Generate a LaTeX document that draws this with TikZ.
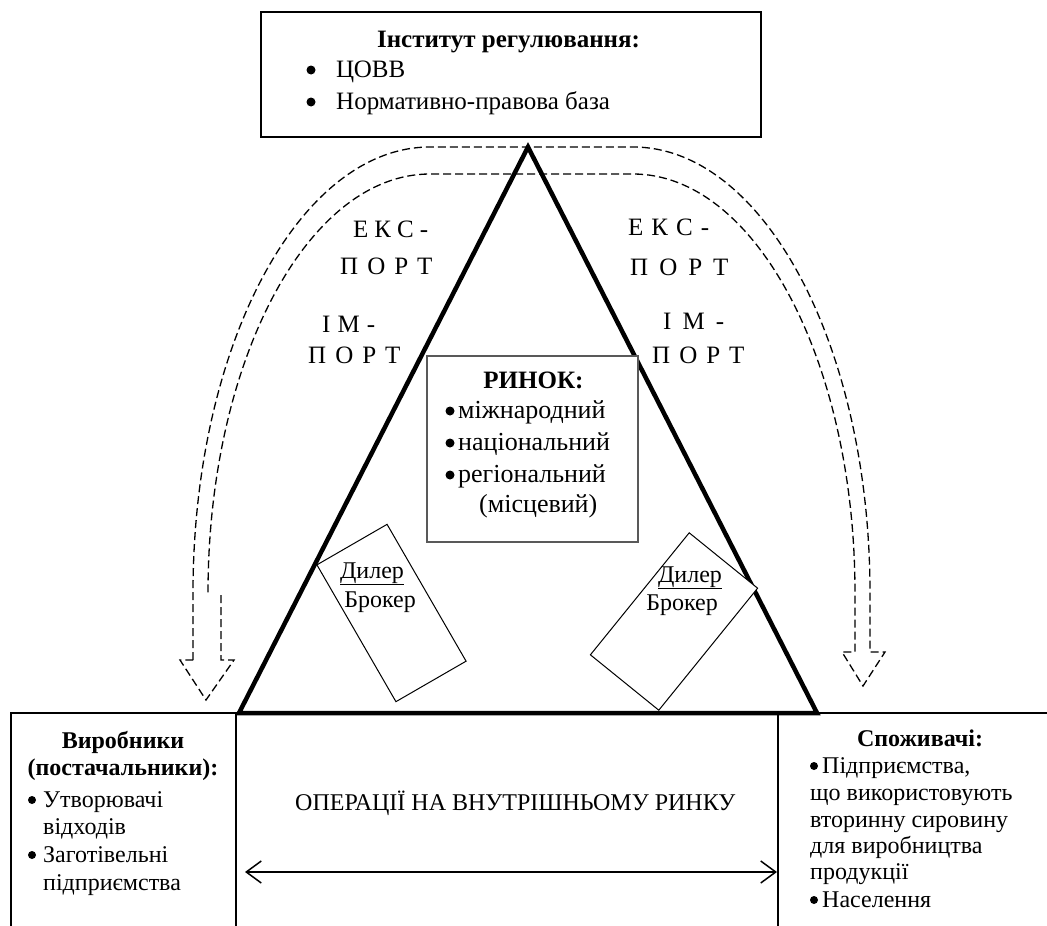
\documentclass[tikz,border=0pt]{standalone}
\usepackage{fontspec}
\setmainfont{Liberation Serif}
\usetikzlibrary{arrows.meta}
\begin{document}
\begin{tikzpicture}[x=1pt,y=-1pt,
  txt/.style={font=\fontsize{24}{28}\selectfont, inner sep=0pt, anchor=base},
  txtl/.style={txt, anchor=base west},
  btxt/.style={txt, font=\fontsize{24}{28}\selectfont\bfseries},
  big/.style={font=\fontsize{25}{30}\selectfont},
  bigb/.style={font=\fontsize{25}{30}\selectfont\bfseries},
  mid/.style={font=\fontsize{26}{30}\selectfont},
  bulfill/.style={fill=black},
  thinline/.style={line width=1.3pt},
  box/.style={draw, thinline, fill=white, inner sep=0pt},
  dsh/.style={line width=1.3pt, dash pattern=on 8pt off 4pt},
  tri/.style={line width=4.5pt, line join=miter},
]
\useasboundingbox (0,0) rectangle (1047,926);

% ---------- dashed U-shaped arrows ----------
\draw[dsh] (193,660) -- (193,593)
  arc[start angle=180, end angle=270, x radius=237, y radius=446]
  -- (633,147)
  arc[start angle=270, end angle=360, x radius=237, y radius=446]
  -- (870,652) -- (885,652) -- (863,686) -- (842,652) -- (855,652) -- (855,593)
  arc[start angle=0, end angle=-90, x radius=222, y radius=419]
  -- (430,174)
  arc[start angle=270, end angle=180, x radius=222, y radius=419];
\draw[dsh] (221,595) -- (221,660) -- (234,660) -- (206,700) -- (180,660) -- (193,660);

% ---------- top box ----------
\node[box, minimum width=500pt, minimum height=125pt] (inst) at (511,74.5) {};
\node[txt, bigb] (instT) at (508.5,47) {Інститут регулювання:};
\fill[bulfill] (311,70) circle[radius=4.5];
\node[txtl, big] (it1) at (336,77) {ЦОВВ};
\fill[bulfill] (311,102) circle[radius=4.5];
\node[txtl, big] (it2) at (336,109) {Нормативно-правова база};

% ---------- triangle ----------
\coordinate (apex) at (528,147);
\coordinate (tl) at (239,713);
\coordinate (tr) at (817,713);
\draw[tri] (apex) -- (tl) -- (tr) -- cycle;

% ---------- bottom frame ----------
\coordinate (fL) at (11,713);
\coordinate (fR) at (1047,713);
\draw[thinline] (11,926) -- (fL) -- (fR);
\draw[thinline] (236,713) -- (236,926);
\draw[thinline] (778,713) -- (778,926);
\draw[tri] (tl) -- (tr);

% ---------- market box ----------
\node[box, draw=black!65, minimum width=211pt, minimum height=186pt] (rinok) at (532.5,449) {};
\node[txt, bigb] (rinT) at (533.5,388) {РИНОК:};
\fill[bulfill] (450,411) circle[radius=4.5];
\node[txtl, mid] (rt1) at (458,418) {міжнародний};
\fill[bulfill] (450,443) circle[radius=4.5];
\node[txtl, mid] (rt2) at (458,450) {національний};
\fill[bulfill] (450,475) circle[radius=4.5];
\node[txtl, mid] (rt3) at (458,482) {регіональний};
\node[txtl, mid] (rt4) at (479,512) {(місцевий)};

% ---------- dealer boxes ----------
\node[box, line width=1pt, minimum width=81pt, minimum height=158pt, rotate=30] (dl) at (391.5,613) {};
\node[txt] (dlD) at (372,578) {\underline{Дилер}};
\node[txt] (dlB) at (380,607) {Брокер};
\node[box, line width=1pt, minimum width=88pt, minimum height=157pt, rotate=-39] (dr) at (674,621.5) {};
\node[txt] (drD) at (690,582) {\underline{Дилер}};
\node[txt] (drB) at (682,610) {Брокер};

% ---------- export / import labels ----------
\node[txtl, big] (le1) at (353,237) {Е\hspace{6pt}К\hspace{6pt}С\hspace{6pt}-};
\node[txtl, big] (le2) at (340,274) {П\hspace{9pt}О\hspace{9pt}Р\hspace{9pt}Т};
\node[txtl, big] (li1) at (322,332) {І\hspace{7pt}М\hspace{7pt}-};
\node[txtl, big] (li2) at (308,363) {П\hspace{9pt}О\hspace{9pt}Р\hspace{9pt}Т};
\node[txtl, big] (re1) at (628,235) {Е\hspace{8pt}К\hspace{8pt}С\hspace{8pt}-};
\node[txtl, big] (re2) at (630,275) {П\hspace{11pt}О\hspace{11pt}Р\hspace{11pt}Т};
\node[txtl, big] (ri1) at (663,329) {І\hspace{11pt}М\hspace{11pt}-};
\node[txtl, big] (ri2) at (652,363) {П\hspace{9pt}О\hspace{9pt}Р\hspace{9pt}Т};

% ---------- bottom centre ----------
\node[txtl] (ops) at (295,810) {ОПЕРАЦІЇ НА ВНУТРІШНЬОМУ РИНКУ};
\coordinate (aL) at (245,872);
\coordinate (aR) at (777,872);
\draw[line width=1.5pt, {Straight Barb[length=15pt,width=22pt]}-{Straight Barb[length=15pt,width=22pt]}] (aL) -- (aR);

% ---------- producers ----------
\node[btxt] (pT1) at (123,748) {Виробники};
\node[btxt] (pT2) at (123,775) {(постачальники):};
\fill[bulfill] (32,800) circle[radius=4];
\node[txtl] (p1) at (43,807) {Утворювачі};
\node[txtl] (p2) at (43,834) {відходів};
\fill[bulfill] (32,855) circle[radius=4];
\node[txtl] (p3) at (43,862) {Заготівельні};
\node[txtl] (p4) at (43,890) {підприємства};

% ---------- consumers ----------
\node[btxt] (cT) at (920,746) {Споживачі:};
\fill[bulfill] (814,766) circle[radius=4];
\node[txtl] (c1) at (822,773) {Підприємства,};
\node[txtl] (c2) at (810,800) {що використовують};
\node[txtl] (c3) at (810,827) {вторинну сировину};
\node[txtl] (c4) at (810,853) {для виробництва};
\node[txtl] (c5) at (810,879) {продукції};
\fill[bulfill] (814,900) circle[radius=4];
\node[txtl] (c6) at (822,907) {Населення};
\end{tikzpicture}
\end{document}
